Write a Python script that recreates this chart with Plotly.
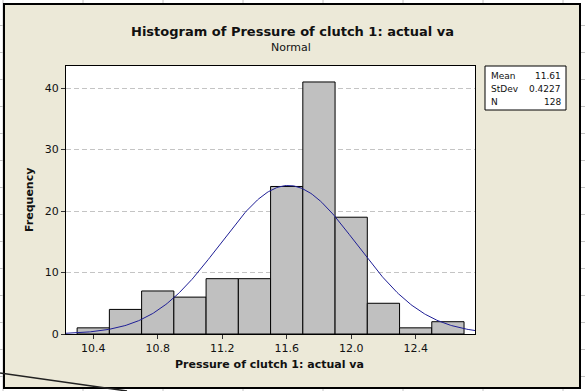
import numpy as np
import plotly.graph_objects as go

# ---- data ----
bin_edges = [10.3, 10.5, 10.7, 10.9, 11.1, 11.3, 11.5, 11.7, 11.9, 12.1, 12.3, 12.5, 12.7]
counts = [1, 4, 7, 6, 9, 9, 24, 41, 19, 5, 1, 2]
mean_val = 11.61
stdev_val = 0.4227
n_val = 128
x_ticks = [10.4, 10.8, 11.2, 11.6, 12.0, 12.4]
x_ticktext = ["10.4", "10.8", "11.2", "11.6", "12.0", "12.4"]
y_ticks = [0, 10, 20, 30, 40]

# ---- layout geometry (pixels) ----
W, H = 585, 391
L, R, T, B = 66, 475, 66, 334
xr = [10.231, 12.768]
yr = [0, 43.6]

def px(x):
    return (x - L) / (R - L)

def py(y):
    return (B - y) / (B - T)

centers = [(a + b) / 2 for a, b in zip(bin_edges[:-1], bin_edges[1:])]
widths = [b - a for a, b in zip(bin_edges[:-1], bin_edges[1:])]
bw = widths[0]

xs = np.linspace(xr[0], xr[1], 300)
ys = n_val * bw * np.exp(-0.5 * ((xs - mean_val) / stdev_val) ** 2) / (stdev_val * np.sqrt(2 * np.pi))

FONT = "DejaVu Sans"
TXT = "#111111"

fig = go.Figure()
fig.add_trace(go.Bar(x=centers, y=counts, width=widths,
                     marker=dict(color="#C0C0C0", line=dict(color="black", width=1)),
                     hoverinfo="skip"))
fig.add_trace(go.Scatter(x=xs, y=ys, mode="lines",
                         line=dict(color="#1E1E96", width=1), hoverinfo="skip"))

shapes = []
# Excel gridlines in background
for k in range(15):
    yy = 25.5 + 27.0 * k
    shapes.append(dict(type="line", xref="paper", yref="paper", layer="below",
                       x0=px(0), x1=px(W), y0=py(yy), y1=py(yy),
                       line=dict(color="#C4C4C4", width=1)))
for k in range(8):
    xx = 3 + 80 * k
    shapes.append(dict(type="line", xref="paper", yref="paper", layer="below",
                       x0=px(xx), x1=px(xx), y0=py(0), y1=py(H),
                       line=dict(color="#C4C4C4", width=1)))
# beige chart frame
shapes.append(dict(type="rect", xref="paper", yref="paper", layer="below",
                   x0=px(4), x1=px(580), y0=py(4), y1=py(388),
                   fillcolor="#ECE9D8", line=dict(color="black", width=2)))
# white plot area
shapes.append(dict(type="rect", xref="paper", yref="paper", layer="below",
                   x0=0, x1=1, y0=0, y1=1, fillcolor="white", line=dict(width=0)))
# stats box
shapes.append(dict(type="rect", xref="paper", yref="paper",
                   x0=px(485), x1=px(566), y0=py(66), y1=py(110),
                   fillcolor="white", line=dict(color="black", width=1)))
# stray diagonal line bottom-left
shapes.append(dict(type="line", xref="paper", yref="paper",
                   x0=px(0), x1=px(127), y0=py(373), y1=py(391),
                   line=dict(color="#222222", width=1.5)))

ann = []
ann.append(dict(text="<b>Histogram of Pressure of clutch 1: actual va</b>", x=px(292), y=py(32),
                xref="paper", yref="paper", showarrow=False, xanchor="center", yanchor="middle",
                font=dict(family=FONT, size=13, color=TXT)))
ann.append(dict(text="Normal", x=px(291), y=py(48),
                xref="paper", yref="paper", showarrow=False, xanchor="center", yanchor="middle",
                font=dict(family=FONT, size=11, color=TXT)))
ann.append(dict(text="<b>Pressure of clutch 1: actual va</b>", x=px(269), y=py(364),
                xref="paper", yref="paper", showarrow=False, xanchor="center", yanchor="middle",
                font=dict(family=FONT, size=11, color=TXT)))
ann.append(dict(text="<b>Frequency</b>", x=px(29), y=py(200), textangle=-90,
                xref="paper", yref="paper", showarrow=False, xanchor="center", yanchor="middle",
                font=dict(family=FONT, size=11, color=TXT)))
stats = [("Mean", f"{mean_val:.2f}", 76), ("StDev", f"{stdev_val:.4f}", 89), ("N", f"{n_val}", 102)]
for lab, val, yy in stats:
    ann.append(dict(text=lab, x=px(489), y=py(yy), xref="paper", yref="paper", showarrow=False,
                    xanchor="left", yanchor="middle", font=dict(family=FONT, size=9, color=TXT)))
    ann.append(dict(text=val, x=px(563), y=py(yy), xref="paper", yref="paper", showarrow=False,
                    xanchor="right", yanchor="middle", font=dict(family=FONT, size=9, color=TXT)))

fig.update_layout(
    width=W, height=H,
    margin=dict(l=L, r=W - R, t=T, b=H - B, pad=0),
    paper_bgcolor="white", plot_bgcolor="rgba(0,0,0,0)",
    showlegend=False, bargap=0,
    shapes=shapes, annotations=ann,
    font=dict(family=FONT, size=11, color=TXT),
)
fig.update_xaxes(range=xr, tickvals=x_ticks, ticktext=x_ticktext, ticks="outside", ticklen=4,
                 tickcolor="#333333", showgrid=False, zeroline=False, showline=True,
                 linecolor="black", linewidth=1, mirror=True,
                 tickfont=dict(family=FONT, size=11, color=TXT))
fig.update_yaxes(range=yr, tickvals=y_ticks, ticks="outside", ticklen=4, tickcolor="#333333",
                 showgrid=True, gridcolor="#C4C4C4", griddash="5px,3px", gridwidth=1,
                 zeroline=False, showline=True, linecolor="black", linewidth=1, mirror=True,
                 tickfont=dict(family=FONT, size=11, color=TXT))

fig.write_html("out.html", config={"displayModeBar": False, "staticPlot": True},
               post_script="document.body.style.margin='0';document.body.style.overflow='hidden';")
